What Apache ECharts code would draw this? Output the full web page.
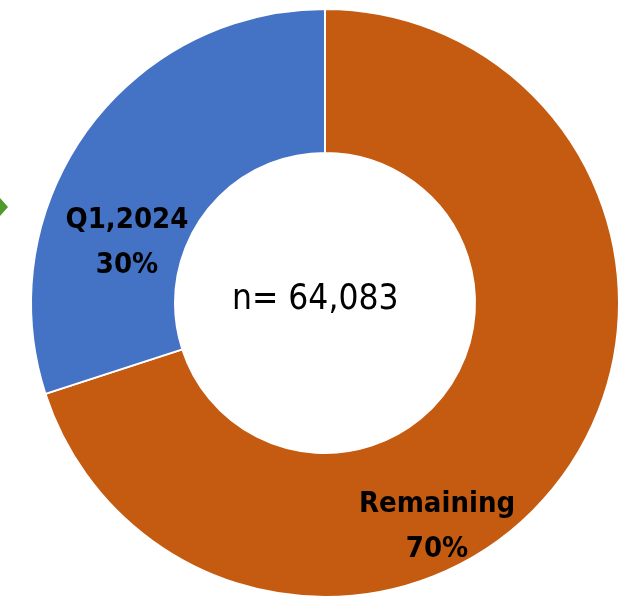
<!DOCTYPE html>
<html>
<head>
<meta charset="utf-8">
<script src="https://cdn.jsdelivr.net/npm/echarts@6/dist/echarts.min.js"></script>
<style>
  html, body { margin: 0; padding: 0; background: #fff; }
  #chart { width: 628px; height: 598px; }
</style>
</head>
<body>
<div id="chart"></div>
<script>
// Share of records: Q1 2024 versus the remaining period
const categories = ['Remaining', 'Q1,2024'];
const shares = [70, 30];
const sliceColors = ['#C55A11', '#4472C4'];
const totalLabel = 'n= 64,083';

const fontFamily = '"Liberation Sans Narrow", "DejaVu Sans Condensed", "Roboto", sans-serif';

// Labels sit off the ring's midline, nudged toward the lower part of each slice
const labelOffsets = [[-70, 92], [-16, 72]];

const chart = echarts.init(document.getElementById('chart'), null, { renderer: 'canvas' });

chart.setOption({
  animation: false,
  backgroundColor: '#ffffff',
  graphic: [
    {
      type: 'text',
      left: 232,
      top: 282,
      style: {
        text: totalLabel,
        font: '500 35px ' + fontFamily,
        fill: '#000'
      }
    },
    {
      type: 'polygon',
      shape: { points: [[0, 198], [8, 207], [0, 216]] },
      style: { fill: '#4E9A2A' }
    }
  ],
  series: [
    {
      type: 'pie',
      center: [325, 303],
      radius: [150, 294],
      startAngle: 90,
      clockwise: true,
      silent: true,
      itemStyle: { borderColor: '#ffffff', borderWidth: 2 },
      label: {
        show: true,
        position: 'inside',
        formatter: function (p) { return p.name + '\n' + p.value + '%'; },
        fontFamily: fontFamily,
        fontWeight: 'bold',
        fontSize: 29,
        lineHeight: 45,
        color: '#000'
      },
      labelLine: { show: false },
      data: categories.map(function (name, i) {
        return {
          name: name,
          value: shares[i],
          itemStyle: { color: sliceColors[i] },
          label: { offset: labelOffsets[i] }
        };
      })
    }
  ]
});
</script>
</body>
</html>
